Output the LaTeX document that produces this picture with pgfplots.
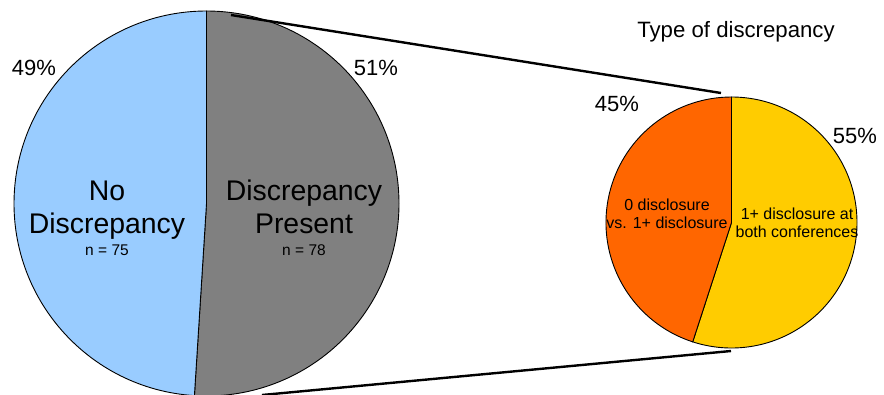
\documentclass[border=0pt]{standalone}
\usepackage{pgfplots}
\pgfplotsset{compat=1.18}
\usepackage{fontspec}
\setmainfont{Liberation Sans}
\definecolor{pblue}{HTML}{99CCFF}
\definecolor{pgray}{HTML}{808080}
\definecolor{porange}{HTML}{FF6600}
\definecolor{pyellow}{HTML}{FFCC00}
\begin{document}
\begin{tikzpicture}
\begin{axis}[
  width=884pt, height=394pt, scale only axis,
  xmin=0, xmax=884, ymin=0, ymax=394,
  y dir=reverse, hide axis, clip=true,
]
% big pie: centre (206.5,203.5), r=192.5; 51% Discrepancy Present, 49% No Discrepancy
\filldraw[fill=pgray, draw=black, line width=0.9pt] (axis cs:206.5,203.5) -- ++(90:192.5pt)
  arc[start angle=90, end angle={90-3.6*51}, radius=192.5pt] -- cycle;
\filldraw[fill=pblue, draw=black, line width=0.9pt] (axis cs:206.5,203.5) -- ++({90-3.6*51}:192.5pt)
  arc[start angle={90-3.6*51}, end angle=-270, radius=192.5pt] -- cycle;
% small pie: centre (731.5,222.5), r=125.5; 55% / 45%
\filldraw[fill=pyellow, draw=black, line width=0.9pt] (axis cs:731.5,222.5) -- ++(90:125.5pt)
  arc[start angle=90, end angle={90-3.6*55}, radius=125.5pt] -- cycle;
\filldraw[fill=porange, draw=black, line width=0.9pt] (axis cs:731.5,222.5) -- ++({90-3.6*55}:125.5pt)
  arc[start angle={90-3.6*55}, end angle=-270, radius=125.5pt] -- cycle;
% connectors
\draw[line width=2.4pt] (axis cs:231,15) -- (axis cs:721,93);
\draw[line width=2.4pt] (axis cs:262,395) -- (axis cs:731,351);
% labels
\node[anchor=base, font=\fontsize{22}{24}\selectfont] at (axis cs:34,75) {49\%};
\node[anchor=base, font=\fontsize{22}{24}\selectfont] at (axis cs:376,75) {51\%};
\node[anchor=base, font=\fontsize{22}{24}\selectfont] at (axis cs:617,111) {45\%};
\node[anchor=base, font=\fontsize{22}{24}\selectfont] at (axis cs:855,143) {55\%};
\node[anchor=base, font=\fontsize{22.2}{24}\selectfont] at (axis cs:736,37) {Type of discrepancy};
\node[anchor=base, font=\fontsize{28.4}{33}\selectfont] at (axis cs:107,200) {No};
\node[anchor=base, font=\fontsize{28.4}{33}\selectfont] at (axis cs:107,233) {Discrepancy};
\node[anchor=base, font=\fontsize{15.5}{17}\selectfont] at (axis cs:107,255) {n = 75};
\node[anchor=base, font=\fontsize{28.4}{33}\selectfont] at (axis cs:304,200) {Discrepancy};
\node[anchor=base, font=\fontsize{28.4}{33}\selectfont] at (axis cs:304,233) {Present};
\node[anchor=base, font=\fontsize{15.5}{17}\selectfont] at (axis cs:304,255) {n = 78};
\node[anchor=base, font=\fontsize{16}{18}\selectfont] at (axis cs:667,210) {0 disclosure};
\node[anchor=base, font=\fontsize{16}{18}\selectfont] at (axis cs:667,228) {vs. 1+ disclosure};
\node[anchor=base, font=\fontsize{16}{18}\selectfont] at (axis cs:797,219) {1+ disclosure at};
\node[anchor=base, font=\fontsize{16}{18}\selectfont] at (axis cs:797,237) {both conferences};
\end{axis}
\pgfresetboundingbox
\path[use as bounding box] (current axis.south west) rectangle (current axis.north east);
\end{tikzpicture}
\end{document}
